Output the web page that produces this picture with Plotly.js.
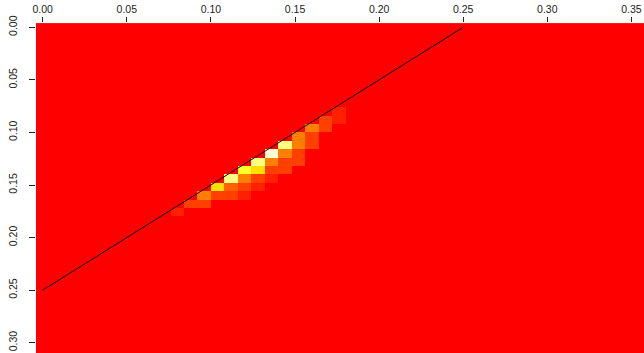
<!DOCTYPE html>
<html>
<head>
<meta charset="utf-8">
<script src="https://cdn.plot.ly/plotly-3.0.1.min.js"></script>
<style>html,body{margin:0;padding:0;background:#fff;}#chart{width:644px;height:353px;}</style>
</head>
<body>
<div id="chart"></div>
<script>
// Grid of cell centres (step 0.008)
const gridStep = 0.008;
const nX = 46;
const nY = 40;
// Non-zero cells: column index, row index, colour level (0..11 of heat.colors(12))
const cellCol = [10, 11,12, 12,13,14,15, 13,14,15,16, 14,15,16,17, 15,16,17,18, 16,17,18,19, 17,18,19, 18,19,20, 19,20, 20,21, 21,22, 22];
const cellRow = [22, 21,21, 20,20,20,20, 19,19,19,19, 18,18,18,18, 17,17,17,17, 16,16,16,16, 15,15,15, 14,14,14, 13,13, 12,12, 11,11, 10];
const cellVal = [1,  2,2,   4,2,2,1,     7,3,2,1,     10,4,2,1,    9,7,2,2,     10,4,2,2,    11,4,2,    10,4,2,    4,2,   4,2,   2,1,   1];
// Line endpoints
const lineX = [0, 0.25];
const lineY = [0.25, 0];
const xTicks = [0, 0.05, 0.10, 0.15, 0.20, 0.25, 0.30, 0.35];
const yTicks = [0, 0.05, 0.10, 0.15, 0.20, 0.25, 0.30];
const heatCols = ['#FF0000','#FF2000','#FF4000','#FF6000','#FF8000','#FF9F00','#FFBF00','#FFDF00','#FFFF00','#FFFF2A','#FFFF80','#FFFFD5'];

const xs = [], ys = [];
for (let i = 0; i < nX; i++) xs.push(+(i * gridStep).toFixed(4));
for (let j = 0; j < nY; j++) ys.push(+(j * gridStep).toFixed(4));
const z = ys.map(() => xs.map(() => 0));
cellCol.forEach((c, k) => { z[cellRow[k]][c] = cellVal[k]; });

const cs = [];
heatCols.forEach((c, k) => { cs.push([k / 12, c]); cs.push([(k + 1) / 12, c]); });

const tickFont = {family: 'Liberation Sans, Arial, sans-serif', size: 10.5, color: '#222'};

Plotly.newPlot('chart', [
  {type: 'heatmap', x: xs, y: ys, z: z, colorscale: cs, zmin: -0.5, zmax: 11.5,
   showscale: false, hoverinfo: 'skip'},
  {type: 'scatter', mode: 'lines', x: lineX, y: lineY,
   line: {color: '#000', width: 1}, hoverinfo: 'skip', showlegend: false}
], {
  width: 644, height: 353,
  margin: {l: 36, r: 0, t: 23, b: 0, pad: 0},
  paper_bgcolor: '#fff', plot_bgcolor: '#fff',
  showlegend: false,
  xaxis: {side: 'top', range: [-0.004, 0.3575], tickvals: xTicks, ticktext: xTicks.map(v => v.toFixed(2)),
          ticks: 'outside', ticklen: 5, tickcolor: '#222', tickwidth: 1, showgrid: false, zeroline: false,
          showline: false, tickfont: tickFont, automargin: false},
  yaxis: {range: [0.3098, -0.0041], tickvals: yTicks, ticktext: yTicks.map(v => v.toFixed(2)),
          ticks: 'outside', ticklen: 6, tickcolor: '#222', tickwidth: 1, showgrid: false, zeroline: false,
          showline: false, tickfont: tickFont, tickangle: -90, ticklabelstandoff: 8, automargin: false}
}, {displayModeBar: false, staticPlot: true});
</script>
</body>
</html>
